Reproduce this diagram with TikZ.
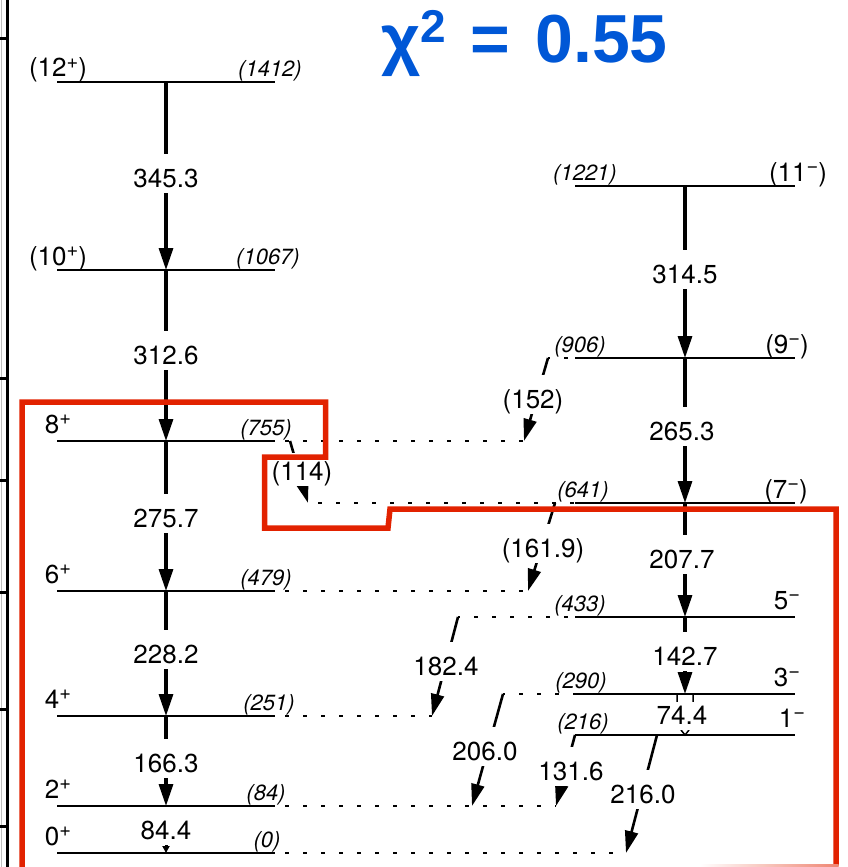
\documentclass[tikz,border=0pt]{standalone}
\usepackage{fontspec}
\setmainfont{TeX Gyre Heros}
\newfontfamily\titlefont{Liberation Sans}
\usetikzlibrary{arrows.meta}
\definecolor{titleblue}{RGB}{0,87,214}
\definecolor{boxred}{RGB}{226,34,0}
\newcommand\sps[1]{\raisebox{9pt}{\fontsize{20}{20}\selectfont #1}}
\begin{document}
\begin{tikzpicture}[x=1pt,y=-1pt,
  levelline/.style={line width=2.9pt},
  vtrans/.style={line width=3.2pt,-{Triangle[length=22pt,width=14pt]}},
  strans/.style={line width=2.6pt,-{Triangle[length=22pt,width=13pt]}},
  dotline/.style={line width=2.6pt,dash pattern=on 4pt off 14pt,dash phase=8pt},
  glab/.style={fill=white,inner xsep=2pt,inner ysep=3pt,text height=30pt,text depth=2.6pt,anchor=base,font=\fontsize{26}{30}\selectfont},
  spinlab/.style={inner sep=0pt,anchor=base,font=\fontsize{26}{30}\selectfont},
  enlab/.style={inner sep=0pt,anchor=base,font=\fontsize{22}{25}\selectfont\itshape},
]
\useasboundingbox (0,0) rectangle (847,867);

% axis
\draw[gray!50,line width=1pt] (1.5,0) -- (1.5,867);
\draw[line width=3pt] (7,-5) -- (7,872);
\foreach \t in {39,378,480,592,709,826} \draw[line width=3pt] (0,\t) -- (8,\t);

% ---- coordinates: left band
\foreach \n/\y in {12/82,10/270,8/441,6/591,4/716,2/806,0/853}{
  \coordinate (a\n L) at (57,\y);
  \coordinate (a\n R) at (275,\y);
  \coordinate (a\n T) at (166,\y);
}
% right band
\foreach \n/\y in {11/186,9/358,7/503,5/617,3/694,1/735}{
  \coordinate (b\n L) at (575,\y);
  \coordinate (b\n R) at (795,\y);
  \coordinate (b\n T) at (685,\y);
}
% slanted transitions end points
\coordinate (s152a) at (548,358); \coordinate (s152b) at (524,441);
\coordinate (s114a) at (290,441); \coordinate (s114b) at (308,503);
\coordinate (s161a) at (555,503); \coordinate (s161b) at (528,591);
\coordinate (s182a) at (458,617); \coordinate (s182b) at (432,716);
\coordinate (s206a) at (503,694); \coordinate (s206b) at (472,806);
\coordinate (s131a) at (575,735); \coordinate (s131b) at (556,806);
\coordinate (s216a) at (657,735); \coordinate (s216b) at (626,853);

% ---- vertical transitions
\draw[vtrans] (a12T) -- (a10T);
\draw[vtrans] (a10T) -- (a8T);
\draw[vtrans] (a8T) -- (a6T);
\draw[vtrans] (a6T) -- (a4T);
\draw[vtrans] (a4T) -- (a2T);
\draw[line width=3pt,-{Triangle[length=7pt,width=7pt]}] (a2T) -- (a0T);
\draw[vtrans] (b11T) -- (b9T);
\draw[vtrans] (b9T) -- (b7T);
\draw[vtrans] (b7T) -- (b5T);
\draw[vtrans] (b5T) -- (b3T);
% 74.4 (hollow)
\draw[line width=1.5pt] ([xshift=-8pt]b3T) -- ([xshift=-8pt,yshift=-32pt]b3T)
  ([xshift=8pt]b3T) -- ([xshift=8pt,yshift=-32pt]b3T)
  ([xshift=-4pt,yshift=5pt]b1T) -- (b1T) -- ([xshift=4pt,yshift=5pt]b1T);

% ---- slanted transitions
\draw[strans] (s152a) -- (s152b);
\draw[strans] (s114a) -- (s114b);
\draw[strans] (s161a) -- (s161b);
\draw[strans] (s182a) -- (s182b);
\draw[strans] (s206a) -- (s206b);
\draw[strans] (s131a) -- (s131b);
\draw[strans] (s216a) -- (s216b);

% ---- gamma labels
\node[glab] (g345) at (166,187) {345.3};
\node[glab] (g312) at (166,364) {312.6};
\node[glab] (g275) at (166,527) {275.7};
\node[glab] (g228) at (166,663) {228.2};
\node[glab] (g166) at (166,772) {166.3};
\node[glab] (g84) at (166,839) {84.4};
\node[glab] (g314) at (685,283) {314.5};
\node[glab] (g265) at (682,440) {265.3};
\node[glab] (g207) at (682,568) {207.7};
\node[glab] (g142) at (685,665) {142.7};
\node[glab,text height=19pt] (g74) at (682,724) {74.4};
\node[glab] (g152) at (533,408) {(152)};
\node[glab,text height=24pt] (g114) at (302,480) {(114)};
\node[glab] (g161) at (543,557) {(161.9)};
\node[glab] (g182) at (446,675) {182.4};
\node[glab] (g206) at (485,760) {206.0};
\node[glab] (g131) at (571,780) {131.6};
\node[glab] (g216) at (643,803) {216.0};

% ---- level lines
\foreach \n in {12,10,8,6,4,2,0} \draw[levelline] (a\n L) -- (a\n R);
\foreach \n in {11,9,7,5,3,1} \draw[levelline] (b\n L) -- (b\n R);

% ---- dotted extensions
\draw[dotline] (a8R) -- (s152b);
\draw[dotline,dash phase=2pt] (s152a) -- (b9L);
\draw[dotline] (s114b) -- (b7L);
\draw[dotline] (a6R) -- (s161b);
\draw[dotline,dash phase=2pt] (s182a) -- (b5L);
\draw[dotline] (a4R) -- (s182b);
\draw[dotline,dash phase=2pt] (s206a) -- (b3L);
\draw[dotline] (a2R) -- (s131b);
\draw[dotline] (a0R) -- (s216b);

% ---- level labels, left band
\node[spinlab] (j12) at (58,77) {(12\sps{+})};
\node[spinlab] (j10) at (58,265) {(10\sps{+})};
\node[spinlab] (j8) at (58,433) {8\sps{+}};
\node[spinlab] (j6) at (58,583) {6\sps{+}};
\node[spinlab] (j4) at (58,708) {4\sps{+}};
\node[spinlab] (j2) at (58,798) {2\sps{+}};
\node[spinlab] (j0) at (58,845) {0\sps{+}};
\node[enlab] (e1412) at (270,76.5) {(1412)};
\node[enlab] (e1067) at (268,264.5) {(1067)};
\node[enlab] (e755) at (266,435.5) {(755)};
\node[enlab] (e479) at (266,585.5) {(479)};
\node[enlab] (e251) at (269,710.5) {(251)};
\node[enlab] (e84) at (266,800.5) {(84)};
\node[enlab] (e0) at (267,847.5) {(0)};
% right band
\node[spinlab] (j11) at (798,181) {(11\sps{−})};
\node[spinlab] (j9) at (787,353) {(9\sps{−})};
\node[spinlab] (j7) at (786,498) {(7\sps{−})};
\node[spinlab] (j5) at (787,609) {5\sps{−}};
\node[spinlab] (j3) at (787,686) {3\sps{−}};
\node[spinlab] (j1) at (792,727) {1\sps{−}};
\node[enlab] (e1221) at (585,180.5) {(1221)};
\node[enlab] (e906) at (580,352.5) {(906)};
\node[enlab] (e641) at (583,497.5) {(641)};
\node[enlab] (e433) at (580,611.5) {(433)};
\node[enlab] (e290) at (581,688.5) {(290)};
\node[enlab] (e216) at (583,729.5) {(216)};

% ---- title
\node[anchor=base west,inner sep=0pt,text=titleblue,font=\titlefont\bfseries\fontsize{68}{80}\selectfont] (title) at (381,63)
  {χ\raisebox{20pt}{\fontsize{46}{50}\selectfont 2}\hspace{6pt} = \hspace{6pt}0.55};

% ---- red frame
\draw[boxred,line width=5.5pt,line join=miter] (22,875) -- (22,402) -- (325.5,402) -- (325.5,457) -- (264.5,457) -- (264.5,528) -- (388,528) -- (390,509) -- (836,509) -- (836,866);
\shade[left color=white,right color=boxred!55] (700,864) rectangle (838.5,867);
\end{tikzpicture}
\end{document}
